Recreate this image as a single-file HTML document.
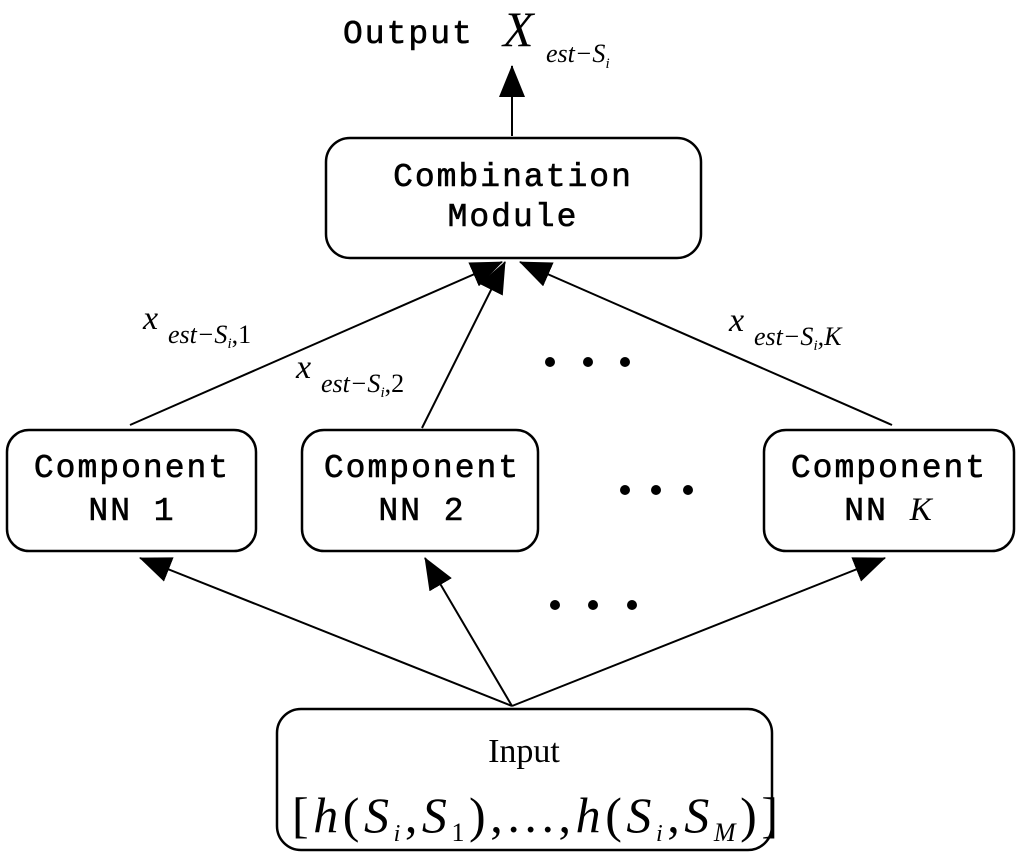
<!DOCTYPE html>
<html><head><meta charset="utf-8"><style>
html,body{margin:0;padding:0;background:#fff;}
svg{display:block;}
.m{font-family:"Liberation Mono",monospace;font-size:33px;fill:#000;stroke:#000;stroke-width:0.6;letter-spacing:2px;}
.s{font-family:"Liberation Serif",serif;font-style:italic;fill:#000;}
.r{font-family:"Liberation Serif",serif;fill:#000;}
</style></head><body>
<svg width="1024" height="860" viewBox="0 0 1024 860" xmlns="http://www.w3.org/2000/svg">
<defs>
<marker id="b" markerWidth="32" markerHeight="26" refX="31" refY="13" orient="auto" markerUnits="userSpaceOnUse" viewBox="0 0 32 26"><path d="M0,0 L32,13 L0,26 z" fill="#000"/></marker></defs>
<g fill="none" stroke="#000" stroke-width="2.5">
<rect x="326" y="138" width="375" height="120" rx="24"/>
<rect x="7" y="430" width="249" height="121" rx="22"/>
<rect x="302" y="430" width="236" height="121" rx="22"/>
<rect x="764" y="430" width="250" height="121" rx="22"/>
<rect x="277" y="709" width="495" height="141" rx="24"/>
</g>
<g stroke="#000" stroke-width="2" fill="none">
<line x1="512" y1="136" x2="512" y2="66" marker-end="url(#b)"/>
<line x1="130" y1="425" x2="502" y2="262" marker-end="url(#b)"/>
<line x1="422" y1="428" x2="505" y2="262" marker-end="url(#b)"/>
<line x1="892" y1="425" x2="520" y2="262" marker-end="url(#b)"/>
<line x1="512" y1="706" x2="140" y2="558" marker-end="url(#b)"/>
<line x1="512" y1="706" x2="425" y2="558" marker-end="url(#b)"/>
<line x1="512" y1="706" x2="885" y2="558" marker-end="url(#b)"/>
</g>
<g fill="#000">
<circle cx="550" cy="362" r="5"/><circle cx="588" cy="362" r="5"/><circle cx="625" cy="362" r="5"/>
<circle cx="625" cy="490" r="5"/><circle cx="656" cy="490" r="5"/><circle cx="688" cy="490" r="5"/>
<circle cx="555" cy="605" r="5"/><circle cx="593" cy="605" r="5"/><circle cx="632" cy="605" r="5"/>
</g>
<text class="m" x="343" y="43">Output</text>
<text class="s" x="503" y="46" font-size="50">X</text>
<text class="s" x="546" y="62" font-size="26">est−S<tspan font-size="15" dy="6">i</tspan></text>
<text class="m" x="513" y="186" text-anchor="middle">Combination</text>
<text class="m" x="513" y="226" text-anchor="middle">Module</text>
<text class="m" x="132" y="477" text-anchor="middle">Component</text>
<text class="m" x="132" y="520" text-anchor="middle">NN 1</text>
<text class="m" x="422" y="477" text-anchor="middle">Component</text>
<text class="m" x="422" y="520" text-anchor="middle">NN 2</text>
<text class="m" x="889" y="477" text-anchor="middle">Component</text>
<text class="m" x="889" y="520" text-anchor="middle">NN <tspan class="s" font-size="33" stroke-width="0">K</tspan></text>
<text class="s" x="143" y="329" font-size="34">x</text>
<text class="s" x="168" y="343" font-size="26">est−S<tspan font-size="15" dy="5">i</tspan><tspan class="r" font-style="normal" dy="-5">,1</tspan></text>
<text class="s" x="296" y="378" font-size="34">x</text>
<text class="s" x="321" y="392" font-size="26">est−S<tspan font-size="15" dy="5">i</tspan><tspan class="r" font-style="normal" dy="-5">,2</tspan></text>
<text class="s" x="729" y="331" font-size="34">x</text>
<text class="s" x="754" y="345" font-size="26">est−S<tspan font-size="15" dy="5">i</tspan><tspan dy="-5">,K</tspan></text>
<text class="r" x="524" y="762" font-size="34" text-anchor="middle">Input</text>
<text class="r" x="292" y="832" font-size="50" textLength="486" lengthAdjust="spacing">[<tspan class="s">h</tspan>(<tspan class="s">S</tspan><tspan class="s" font-size="24" dy="9">i</tspan><tspan dy="-9">,</tspan><tspan class="s">S</tspan><tspan font-size="26" dy="9">1</tspan><tspan dy="-9">),...,</tspan><tspan class="s">h</tspan>(<tspan class="s">S</tspan><tspan class="s" font-size="24" dy="9">i</tspan><tspan dy="-9">,</tspan><tspan class="s">S</tspan><tspan class="s" font-size="26" dy="9">M</tspan><tspan dy="-9">)]</tspan></text>
</svg>
</body></html>
